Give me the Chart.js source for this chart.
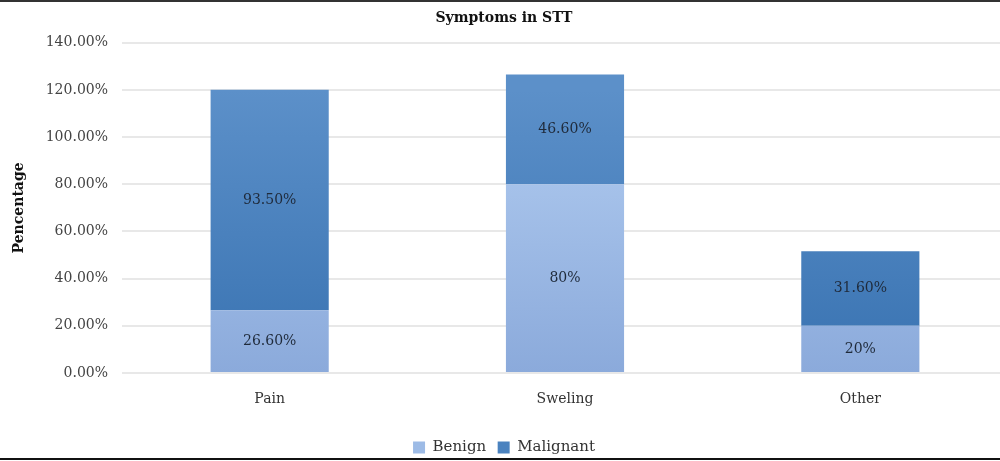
<!DOCTYPE html>
<html>
<head>
<meta charset="utf-8">
<script src="https://cdn.jsdelivr.net/npm/chart.js@4"></script>
<style>
html,body{margin:0;padding:0;background:#fff;overflow:hidden;}
#wrap{position:relative;width:1008px;height:461px;}
#topline{position:absolute;left:0;top:0;width:1000px;height:2px;background:#333;}
#botline{position:absolute;left:0;top:458px;width:1000px;height:2px;background:#111;}
canvas{display:block;}
</style>
</head>
<body>
<div id="wrap">
<canvas id="c" width="1008" height="461"></canvas>
<div id="topline"></div>
<div id="botline"></div>
</div>
<script>
const categories = ['Pain', 'Sweling', 'Other'];
const benign = [26.6, 80, 20];
const malignant = [93.5, 46.6, 31.6];
const benignLabels = ['26.60%', '80%', '20%'];
const malignantLabels = ['93.50%', '46.60%', '31.60%'];
const seriesNames = ['Benign', 'Malignant'];

const FONT = "'DejaVu Serif', 'Liberation Serif', serif";

const labelPlugin = {
  id: 'barLabels',
  afterDatasetsDraw(chart) {
    const ctx = chart.ctx;
    ctx.save();
    ctx.font = "14px " + FONT;
    ctx.fillStyle = '#1f2a3a';
    ctx.textAlign = 'center';
    ctx.textBaseline = 'middle';
    const sets = [benignLabels, malignantLabels];
    chart.data.datasets.forEach((ds, di) => {
      const meta = chart.getDatasetMeta(di);
      meta.data.forEach((bar, i) => {
        const y = (bar.y + bar.base) / 2;
        ctx.fillText(sets[di][i], bar.x, y);
      });
    });
    ctx.restore();
  }
};

new Chart(document.getElementById('c'), {
  type: 'bar',
  data: {
    labels: categories,
    datasets: [
      {
        label: seriesNames[0],
        data: benign,
        backgroundColor: (ctx) => {
          const a = ctx.chart.chartArea;
          if (!a) return '#9dbbe6';
          const g = ctx.chart.ctx.createLinearGradient(0, 180, 0, 372);
          g.addColorStop(0, '#a6c2ea');
          g.addColorStop(1, '#8baadb');
          return g;
        },
        borderWidth: 0
      },
      {
        label: seriesNames[1],
        data: malignant,
        backgroundColor: (ctx) => {
          const a = ctx.chart.chartArea;
          if (!a) return '#4f86c2';
          const g = ctx.chart.ctx.createLinearGradient(0, 90, 0, 330);
          g.addColorStop(0, '#5c90c9');
          g.addColorStop(1, '#3e77b5');
          return g;
        },
        borderWidth: 0
      }
    ]
  },
  options: {
    responsive: false,
    animation: false,
    layout: { padding: { top: 4, left: 0, right: 0, bottom: -4 } },
    barPercentage: 0.8,
    categoryPercentage: 0.5,
    plugins: {
      title: {
        display: true,
        text: 'Symptoms in STT',
        font: { family: FONT, size: 14, weight: 'bold' },
        color: '#111',
        padding: { top: 6, bottom: 16 }
      },
      legend: {
        position: 'bottom',
        align: 'center',
        labels: {
          boxWidth: 12,
          boxHeight: 12,
          padding: 4,
          font: { family: FONT, size: 15 },
          color: '#333',
          generateLabels: (chart) => [
            { text: seriesNames[0] + '\u2002', fillStyle: '#9dbbe6', strokeStyle: '#9dbbe6', lineWidth: 0, datasetIndex: 0, fontColor: '#333' },
            { text: seriesNames[1], fillStyle: '#4a82bf', strokeStyle: '#4a82bf', lineWidth: 0, datasetIndex: 1, fontColor: '#333' }
          ]
        }
      },
      tooltip: { enabled: false }
    },
    scales: {
      x: {
        stacked: true,
        grid: { display: false, drawTicks: false },
        border: { display: false },
        ticks: { font: { family: FONT, size: 14 }, color: '#333', padding: 18 },
        afterFit: (scale) => { scale.height = 63; }
      },
      y: {
        stacked: true,
        min: 0,
        max: 140,
        ticks: {
          stepSize: 20,
          font: { family: FONT, size: 14 },
          color: '#444',
          padding: 14,
          callback: (v) => v.toFixed(2) + '%'
        },
        grid: { color: '#e8e8e8', lineWidth: 2, drawTicks: false },
        border: { display: false },
        title: {
          display: true,
          text: 'Pencentage',
          font: { family: FONT, size: 14, weight: 'bold' },
          color: '#111',
          padding: { top: 11, bottom: 6 }
        },
        afterFit: (scale) => { scale.width = 122; }
      }
    }
  },
  plugins: [labelPlugin]
});
</script>
</body>
</html>
